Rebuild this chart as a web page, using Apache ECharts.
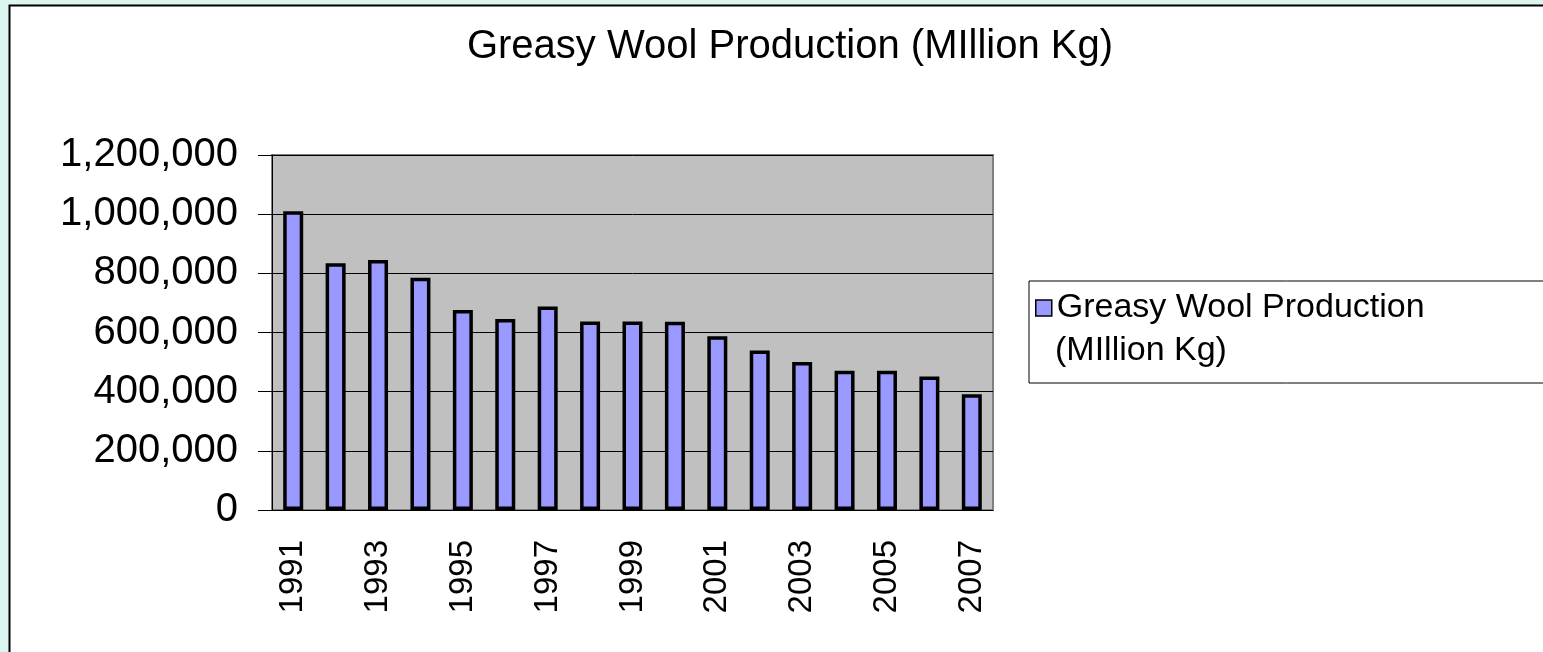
<!DOCTYPE html>
<html>
<head>
<meta charset="utf-8">
<title>Greasy Wool Production</title>
<script src="https://cdn.jsdelivr.net/npm/echarts@6/dist/echarts.min.js"></script>
<style>
  html, body { margin: 0; padding: 0; background: #dcf5f1; }
  #chart { width: 1543px; height: 652px; }
</style>
</head>
<body>
<div id="chart"></div>
<script>
// values
const years = ['1991', '1992', '1993', '1994', '1995', '1996', '1997', '1998', '1999',
  '2000', '2001', '2002', '2003', '2004', '2005', '2006', '2007'];
const production = [1010000, 834000, 845000, 785000, 676000, 646000, 688000, 637000, 637000,
  636000, 587000, 539000, 500000, 471000, 471000, 451000, 391000];
const seriesName = 'Greasy Wool Production (MIllion Kg)';
const legendLines = ['Greasy Wool Production', '(MIllion Kg)'];
const yTicks = [0, 200000, 400000, 600000, 800000, 1000000, 1200000];

const font = '"Liberation Sans", Arial, sans-serif';
const chart = echarts.init(document.getElementById('chart'));

chart.setOption({
  backgroundColor: '#dcf5f1',
  animation: false,
  graphic: [{
    type: 'rect',
    z: -10,
    shape: { x: 9.5, y: 5.5, width: 1600, height: 700 },
    style: { fill: '#ffffff', stroke: '#000000', lineWidth: 2 }
  }, {
    // second line of the legend label, so the marker stays on the first line
    type: 'text',
    z: 100,
    left: 1055,
    top: 334,
    style: { text: legendLines[1], font: '34px ' + font, fill: '#000' }
  }],
  title: {
    text: seriesName,
    left: 785,
    top: 22,
    textAlign: 'center',
    textStyle: { fontFamily: font, fontSize: 40, fontWeight: 'normal', color: '#000' }
  },
  legend: {
    left: 1029,
    top: 281,
    orient: 'vertical',
    icon: 'rect',
    itemWidth: 16,
    itemHeight: 16,
    itemGap: 0,
    padding: [10, 200, 58, 6],
    backgroundColor: '#ffffff',
    borderColor: '#000000',
    borderWidth: 1,
    formatter: function () { return legendLines[0]; },
    textStyle: { fontFamily: font, fontSize: 34, color: '#000' },
    data: [{ name: seriesName, itemStyle: { borderColor: '#000', borderWidth: 1.5 } }]
  },
  grid: {
    left: 272,
    right: 550,
    top: 155,
    bottom: 142,
    show: true,
    backgroundColor: '#c0c0c0',
    borderColor: '#808080',
    borderWidth: 2
  },
  xAxis: {
    type: 'category',
    data: years,
    axisLine: { lineStyle: { color: '#000', width: 1 } },
    axisTick: { interval: 0, length: 10, lineStyle: { color: '#000' } },
    axisLabel: {
      interval: 1,
      rotate: 90,
      margin: 30,
      fontFamily: font,
      fontSize: 33,
      color: '#000'
    }
  },
  yAxis: {
    type: 'value',
    min: yTicks[0],
    max: yTicks[yTicks.length - 1],
    interval: 200000,
    axisLine: { show: true, lineStyle: { color: '#000', width: 1 } },
    axisTick: { show: true, length: 14, lineStyle: { color: '#000' } },
    splitLine: { lineStyle: { color: '#000', width: 1 } },
    axisLabel: {
      margin: 34,
      fontFamily: font,
      fontSize: 40,
      color: '#000',
      formatter: function (v) { return v.toLocaleString('en-US'); }
    }
  },
  series: [{
    name: seriesName,
    type: 'bar',
    data: production,
    barWidth: 20,
    itemStyle: { color: '#9999ff', borderColor: '#000', borderWidth: 3.5 }
  }]
});
</script>
</body>
</html>
